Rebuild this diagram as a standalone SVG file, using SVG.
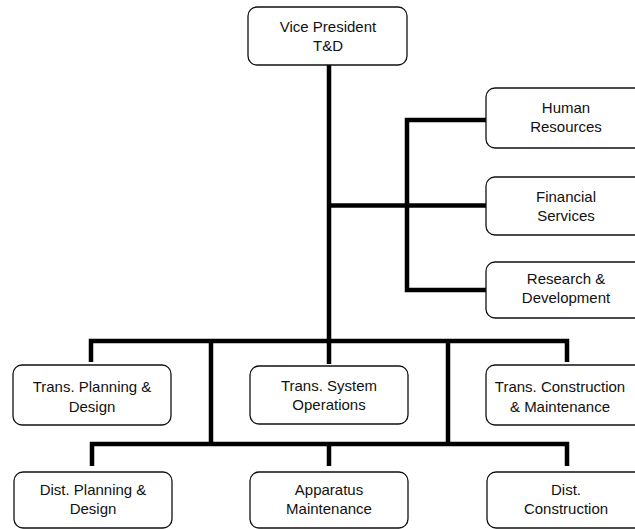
<svg xmlns="http://www.w3.org/2000/svg" width="635" height="529" viewBox="0 0 635 529">
  <style>
    .box { fill: #ffffff; stroke: #111111; stroke-width: 1.3; }
    .lbl { font-family: "Liberation Sans", Arial, sans-serif; font-size: 15px; fill: #111111; text-anchor: middle; }
    .wire { fill: none; stroke: #000000; stroke-width: 4.5; stroke-linejoin: miter; stroke-linecap: butt; }
  </style>
  <rect x="0" y="0" width="635" height="529" fill="#ffffff"/>

  <!-- reporting lines -->
  <g id="connectors">
    <path class="wire" d="M329 65 V364"/>
    <path class="wire" d="M91 362 V341 H567 V362"/>
    <path class="wire" d="M211 341 V444"/>
    <path class="wire" d="M448 341 V444"/>
    <path class="wire" d="M92 466 V444 H567 V466"/>
    <path class="wire" d="M329 444 V466"/>
    <path class="wire" d="M486 120 H407 V290 H486"/>
    <path class="wire" d="M329 205.5 H486"/>
  </g>

  <g id="vp">
    <rect class="box" x="248" y="7" width="159" height="58" rx="9"/>
    <text class="lbl" x="328" y="32">Vice President</text>
    <text class="lbl" x="328" y="51">T&amp;D</text>
  </g>

  <g id="hr">
    <rect class="box" x="486" y="88" width="160" height="60" rx="9"/>
    <text class="lbl" x="566" y="113">Human</text>
    <text class="lbl" x="566" y="132">Resources</text>
  </g>

  <g id="finance">
    <rect class="box" x="486" y="177" width="160" height="58" rx="9"/>
    <text class="lbl" x="566" y="202">Financial</text>
    <text class="lbl" x="566" y="221">Services</text>
  </g>

  <g id="rnd">
    <rect class="box" x="486" y="262" width="160" height="56" rx="9"/>
    <text class="lbl" x="566" y="284">Research &amp;</text>
    <text class="lbl" x="566" y="303">Development</text>
  </g>

  <g id="trans-planning">
    <rect class="box" x="13" y="365" width="158" height="60" rx="9"/>
    <text class="lbl" x="92" y="392">Trans. Planning &amp;</text>
    <text class="lbl" x="92" y="412">Design</text>
  </g>

  <g id="trans-system">
    <rect class="box" x="250" y="366" width="158" height="58" rx="9"/>
    <text class="lbl" x="329" y="391">Trans. System</text>
    <text class="lbl" x="329" y="410">Operations</text>
  </g>

  <g id="trans-construction">
    <rect class="box" x="486" y="365" width="160" height="60" rx="9"/>
    <text class="lbl" x="560" y="392">Trans. Construction</text>
    <text class="lbl" x="560" y="412">&amp; Maintenance</text>
  </g>

  <g id="dist-planning">
    <rect class="box" x="14" y="472" width="158" height="56" rx="9"/>
    <text class="lbl" x="93" y="495">Dist. Planning &amp;</text>
    <text class="lbl" x="93" y="514">Design</text>
  </g>

  <g id="apparatus">
    <rect class="box" x="250" y="472" width="158" height="56" rx="9"/>
    <text class="lbl" x="329" y="495">Apparatus</text>
    <text class="lbl" x="329" y="514">Maintenance</text>
  </g>

  <g id="dist-construction">
    <rect class="box" x="487" y="472" width="160" height="56" rx="9"/>
    <text class="lbl" x="566" y="495">Dist.</text>
    <text class="lbl" x="566" y="514">Construction</text>
  </g>
</svg>
